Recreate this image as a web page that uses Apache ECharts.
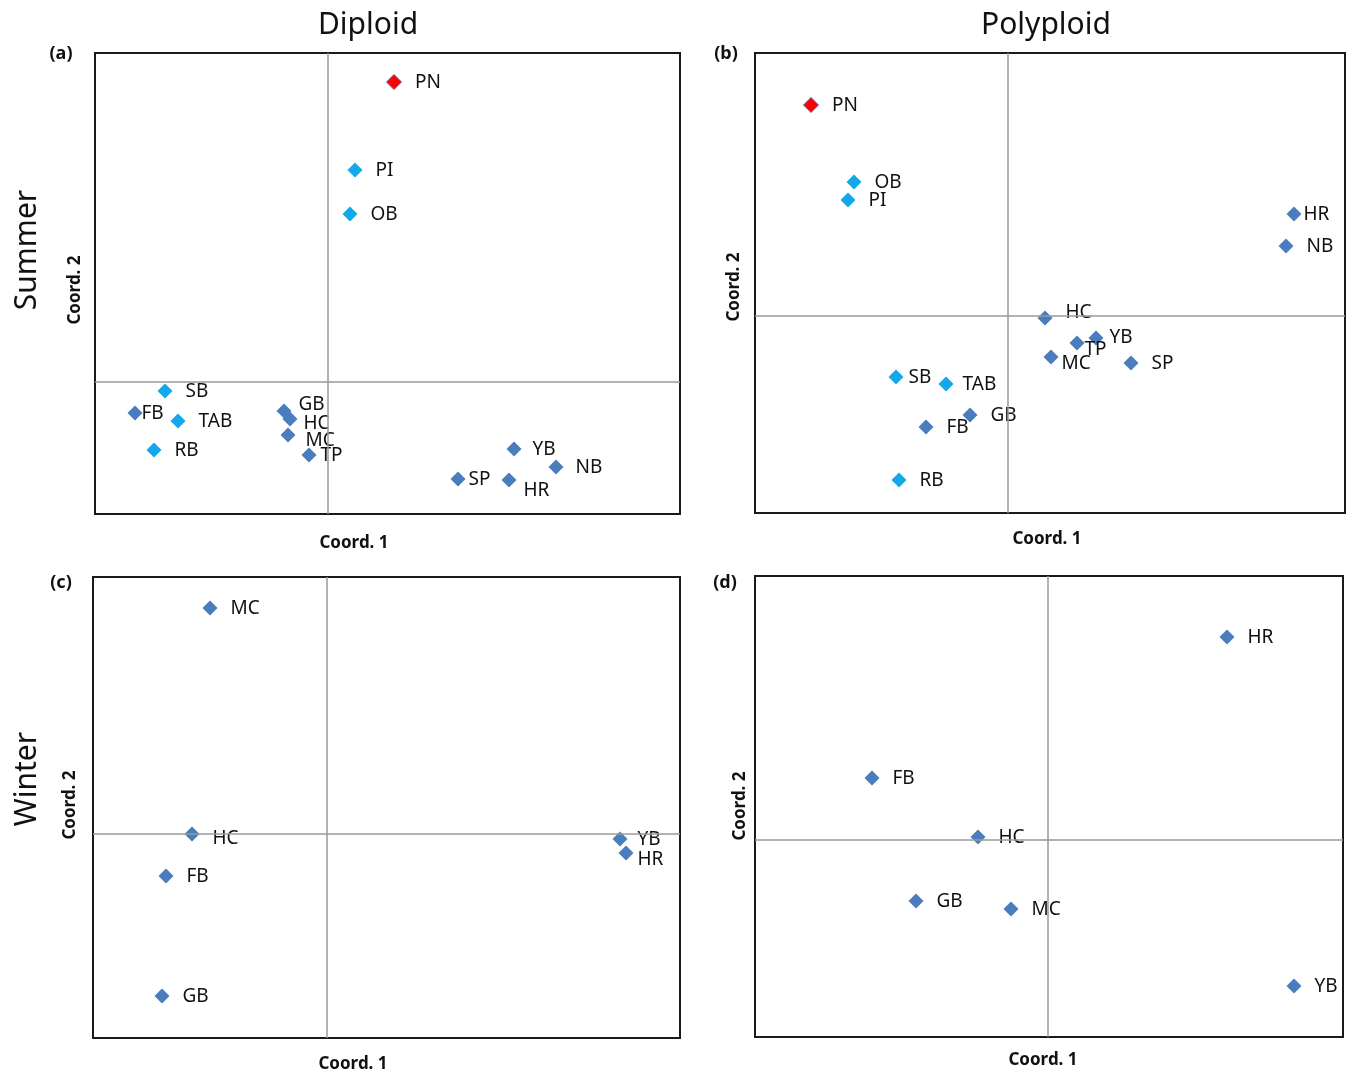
<!DOCTYPE html>
<html>
<head>
<meta charset="utf-8">
<script src="https://cdn.jsdelivr.net/npm/echarts@6/dist/echarts.min.js"></script>
<style>
  html, body { margin: 0; padding: 0; background: #fff; }
  #chart { width: 1347px; height: 1074px; }
</style>
</head>
<body>
<div id="chart"></div>
<script>
// (a) Diploid, summer
const aNames = ["PN", "PI", "OB", "SB", "FB", "TAB", "RB", "GB", "HC", "MC", "TP", "YB", "NB", "SP", "HR"];
const aX = [0.66, 0.27, 0.22, -1.63, -1.93, -1.50, -1.74, -0.44, -0.38, -0.40, -0.19, 1.86, 2.28, 1.30, 1.81];
const aY = [3.00, 2.12, 1.68, -0.09, -0.31, -0.39, -0.68, -0.29, -0.37, -0.53, -0.73, -0.67, -0.85, -0.97, -0.98];
const aGroup = ["red", "light", "light", "light", "dark", "light", "light", "dark", "dark", "dark", "dark", "dark", "dark", "dark", "dark"];

// (b) Polyploid, summer
const bNames = ["PN", "OB", "PI", "HR", "NB", "HC", "YB", "TP", "MC", "SP", "SB", "TAB", "GB", "FB", "RB"];
const bX = [-1.97, -1.54, -1.60, 2.86, 2.78, 0.37, 0.88, 0.69, 0.43, 1.23, -1.12, -0.62, -0.38, -0.82, -1.09];
const bY = [2.11, 1.34, 1.16, 1.02, 0.70, -0.02, -0.22, -0.27, -0.41, -0.47, -0.61, -0.68, -0.99, -1.11, -1.64];
const bGroup = ["red", "light", "light", "dark", "dark", "dark", "dark", "dark", "dark", "dark", "light", "light", "dark", "dark", "light"];

// (c) Diploid, winter
const cNames = ["MC", "HC", "FB", "GB", "YB", "HR"];
const cX = [-1.17, -1.35, -1.61, -1.65, 2.93, 2.99];
const cY = [2.26, 0.00, -0.42, -1.62, -0.05, -0.19];
const cGroup = ["dark", "dark", "dark", "dark", "dark", "dark"];

// (d) Polyploid, winter
const dNames = ["HR", "FB", "HC", "GB", "MC", "YB"];
const dX = [1.79, -1.76, -0.70, -1.32, -0.37, 2.46];
const dY = [2.03, 0.62, 0.03, -0.61, -0.69, -1.46];
const dGroup = ["dark", "dark", "dark", "dark", "dark", "dark"];

// label nudges (px) where the labels sit off the default spot
const nudges = [
  { FB: [-14, 1], GB: [-6, -6], HC: [-7, 5], MC: [-3, 6], TP: [-9, 1], SP: [-10, 1], HR: [-6, 11], YB: [-2, 1], NB: [-1, 1] },
  { HR: [-11, 1], HC: [0, -5], YB: [-7, 0], TP: [-13, 7], MC: [-10, 7], SB: [-8, 1], TAB: [-4, 1] },
  { HC: [0, 5], YB: [-3, 1], HR: [-9, 7] },
  {}
];

const colors = {
  dark: { color: "#4a7dbd", opacity: 1 },
  light: { color: "#12a8ea", opacity: 1 },
  red: { color: "#ff0000", borderColor: "#6e5aa8", borderWidth: 1, opacity: 1 }
};

const panels = [
  { names: aNames, x: aX, y: aY, group: aGroup, xr: [-2.33, 3.52], yr: [-1.32, 3.29], box: [95, 53, 585, 461] },
  { names: bNames, x: bX, y: bY, group: bGroup, xr: [-2.53, 3.37], yr: [-1.97, 2.63], box: [755, 53, 590, 460] },
  { names: cNames, x: cX, y: cY, group: cGroup, xr: [-2.34, 3.53], yr: [-2.04, 2.57], box: [93, 577, 587, 461] },
  { names: dNames, x: dX, y: dY, group: dGroup, xr: [-2.93, 2.95], yr: [-1.97, 2.64], box: [755, 576, 588, 461] }
];

const labelFont = "'Noto Sans', sans-serif";

const grid = [], xAxis = [], yAxis = [], series = [];
panels.forEach((p, i) => {
  grid.push({
    left: p.box[0], top: p.box[1], width: p.box[2], height: p.box[3],
    show: true, borderColor: "#1a1a1a", borderWidth: 2, backgroundColor: "transparent"
  });
  const hidden = {
    axisLine: { show: false }, axisTick: { show: false },
    axisLabel: { show: false }, splitLine: { show: false }
  };
  xAxis.push(Object.assign({ type: "value", gridIndex: i, min: p.xr[0], max: p.xr[1] }, hidden));
  yAxis.push(Object.assign({ type: "value", gridIndex: i, min: p.yr[0], max: p.yr[1] }, hidden));
  const data = p.names.map((n, k) => {
    const item = { name: n, value: [p.x[k], p.y[k]], itemStyle: colors[p.group[k]] };
    item.label = { offset: nudges[i][n] || [0, 1] };
    return item;
  });
  series.push({
    type: "scatter",
    xAxisIndex: i, yAxisIndex: i,
    symbol: "diamond", symbolSize: 15,
    itemStyle: { opacity: 1 },
    data: data,
    label: {
      show: true, position: "right", distance: 13,
      formatter: "{b}", color: "#111", fontSize: 19, fontFamily: labelFont
    },
    markLine: {
      silent: true, symbol: "none", animation: false,
      label: { show: false },
      lineStyle: { color: "#9a9a9a", width: 1.5, type: "solid" },
      data: [{ xAxis: 0 }, { yAxis: 0 }]
    },
    z: 3
  });
});

function txt(x, y, text, size, weight, rot) {
  return {
    type: "text", x: x, y: y, rotation: rot || 0,
    style: {
      text: text, fontSize: size, fontWeight: weight || "normal",
      fontFamily: labelFont, fill: "#111", align: "center", verticalAlign: "middle"
    }
  };
}

const graphic = [
  txt(368, 25, "Diploid", 30),
  txt(1046, 25, "Polyploid", 30),
  txt(27, 250, "Summer", 30, "normal", Math.PI / 2),
  txt(27, 779, "Winter", 30, "normal", Math.PI / 2),
  txt(61, 54, "(a)", 18, "bold"),
  txt(726, 54, "(b)", 18, "bold"),
  txt(61, 583, "(c)", 18, "bold"),
  txt(725, 583, "(d)", 18, "bold"),
  txt(354, 543, "Coord. 1", 17, "bold"),
  txt(1047, 539, "Coord. 1", 17, "bold"),
  txt(353, 1064, "Coord. 1", 17, "bold"),
  txt(1043, 1060, "Coord. 1", 17, "bold"),
  txt(75, 290, "Coord. 2", 17, "bold", Math.PI / 2),
  txt(734, 287, "Coord. 2", 17, "bold", Math.PI / 2),
  txt(70, 805, "Coord. 2", 17, "bold", Math.PI / 2),
  txt(740, 806, "Coord. 2", 17, "bold", Math.PI / 2)
];

const chart = echarts.init(document.getElementById("chart"), null, { renderer: "canvas" });
chart.setOption({
  animation: false,
  backgroundColor: "#fff",
  grid: grid,
  xAxis: xAxis,
  yAxis: yAxis,
  series: series,
  graphic: graphic
});
</script>
</body>
</html>
